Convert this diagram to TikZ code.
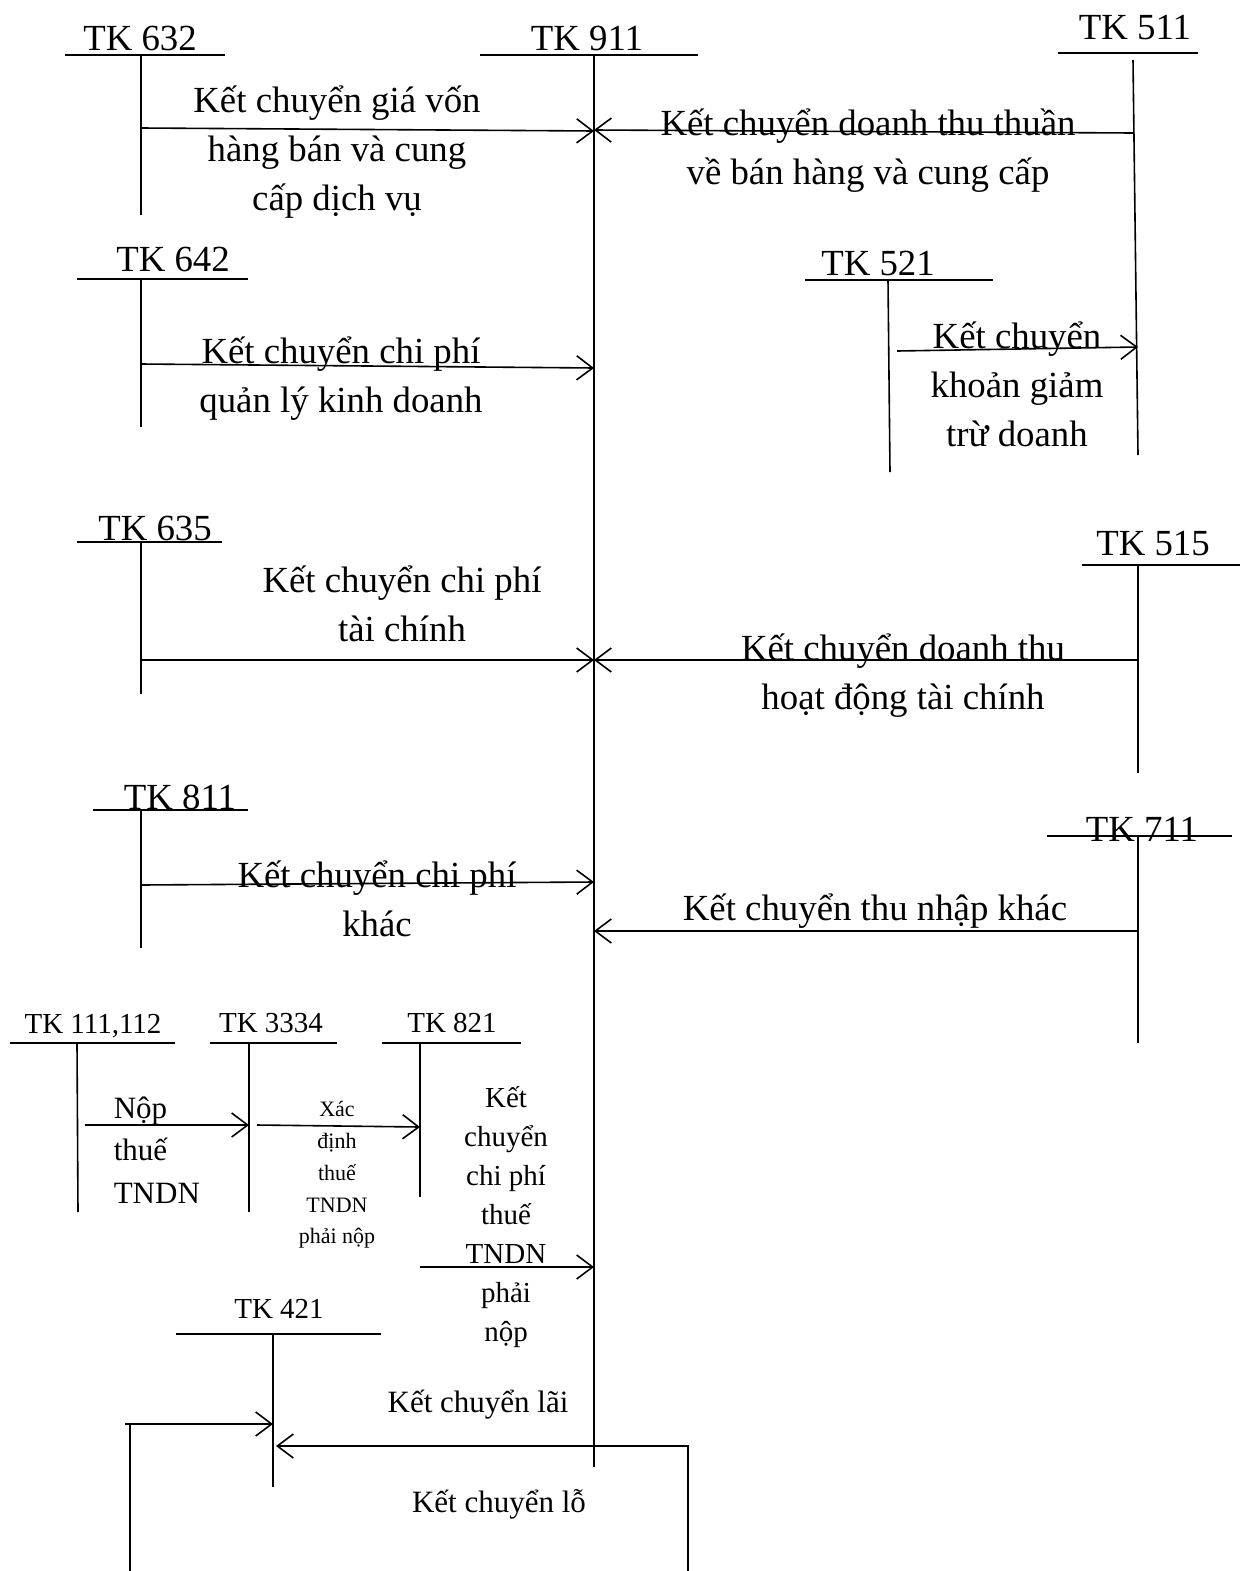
\documentclass[tikz,border=0pt]{standalone}
\usepackage{fontspec}
\setmainfont{Liberation Serif}
\usetikzlibrary{arrows.meta}
\begin{document}
\begin{tikzpicture}[x=1pt,y=-1pt,line width=1.6pt,
  big/.style={font=\fontsize{36.8}{49}\selectfont,inner sep=0pt,align=center},
  mid/.style={font=\fontsize{29}{39}\selectfont,inner sep=0pt,align=center},
  lab/.style={font=\fontsize{31}{40}\selectfont,inner sep=0pt,align=center},
  nop/.style={font=\fontsize{31}{42.5}\selectfont,inner sep=0pt,align=left},
  small/.style={font=\fontsize{22}{31.7}\selectfont,inner sep=0pt,align=center},
  flow/.style={-{Straight Barb[length=16pt,width=24pt,line width=1.6pt]}}]
\useasboundingbox (0,0) rectangle (1242,1571);

% ---------- TK 632 ----------
\node[big] (l632) at (140,38) {TK 632};
\coordinate (a632l) at (65,55); \coordinate (a632r) at (225,55);
\coordinate (a632t) at (141,55); \coordinate (a632b) at (141,215);
\draw (a632l) -- (a632r); \draw (a632t) -- (a632b);

% ---------- TK 911 ----------
\node[big] (l911) at (587,38) {TK 911};
\coordinate (a911l) at (480,55); \coordinate (a911r) at (698,55);
\coordinate (a911t) at (594,55); \coordinate (a911b) at (594,1467);
\draw (a911l) -- (a911r); \draw (a911t) -- (a911b);

% ---------- TK 511 ----------
\node[big] (l511) at (1135,28) {TK 511};
\coordinate (a511l) at (1058,53); \coordinate (a511r) at (1198,53);
\coordinate (a511t) at (1133,60); \coordinate (a511b) at (1138,455);
\draw (a511l) -- (a511r); \draw (a511t) -- (a511b);

% arrows row 1
\coordinate (s1) at (141,128); \coordinate (e1) at (594,131);
\draw[flow] (s1) -- (e1);
\node[big] (t1) at (337,152) {Kết chuyển giá vốn\\hàng bán và cung\\cấp dịch vụ};
\coordinate (s2) at (1133,133); \coordinate (e2) at (594,130);
\draw[flow] (s2) -- (e2);
\node[big] (t2) at (868,151) {Kết chuyển doanh thu thuần\\về bán hàng và cung cấp};

% ---------- TK 642 ----------
\node[big] (l642) at (173,259) {TK 642};
\coordinate (a642l) at (77,279); \coordinate (a642r) at (248,279);
\coordinate (a642t) at (141,279); \coordinate (a642b) at (141,427);
\draw (a642l) -- (a642r); \draw (a642t) -- (a642b);
\coordinate (s3) at (141,364); \coordinate (e3) at (594,368);
\draw[flow] (s3) -- (e3);
\node[big] (t3) at (341,379) {Kết chuyển chi phí\\quản lý kinh doanh};

% ---------- TK 521 ----------
\node[big] (l521) at (878,263) {TK 521};
\coordinate (a521l) at (805,280); \coordinate (a521r) at (993,280);
\coordinate (a521t) at (888,280); \coordinate (a521b) at (890,472);
\draw (a521l) -- (a521r); \draw (a521t) -- (a521b);
\coordinate (s4) at (897,351); \coordinate (e4) at (1138,347);
\draw[flow] (s4) -- (e4);
\node[big] (t4) at (1017,384) {Kết chuyển\\khoản giảm\\trừ doanh};

% ---------- TK 635 ----------
\node[big] (l635) at (155,528) {TK 635};
\coordinate (a635l) at (77,542); \coordinate (a635r) at (222,542);
\coordinate (a635t) at (141,542); \coordinate (a635b) at (141,694);
\draw (a635l) -- (a635r); \draw (a635t) -- (a635b);
\coordinate (s5) at (141,660); \coordinate (e5) at (594,660);
\draw[flow] (s5) -- (e5);
\node[big] (t5) at (402,604) {Kết chuyển chi phí\\tài chính};

% ---------- TK 515 ----------
\node[big] (l515) at (1153,544) {TK 515};
\coordinate (a515l) at (1082,565); \coordinate (a515r) at (1240,565);
\coordinate (a515t) at (1138,565); \coordinate (a515b) at (1138,773);
\draw (a515l) -- (a515r); \draw (a515t) -- (a515b);
\coordinate (s6) at (1138,660); \coordinate (e6) at (594,660);
\draw[flow] (s6) -- (e6);
\node[big] (t6) at (903,676) {Kết chuyển doanh thu\\hoạt động tài chính};

% ---------- TK 811 ----------
\node[big] (l811) at (180,797) {TK 811};
\coordinate (a811l) at (93,810); \coordinate (a811r) at (248,810);
\coordinate (a811t) at (141,810); \coordinate (a811b) at (141,948);
\draw (a811l) -- (a811r); \draw (a811t) -- (a811b);
\coordinate (s7) at (141,885); \coordinate (e7) at (594,882);
\draw[flow] (s7) -- (e7);
\node[big] (t7) at (377,899) {Kết chuyển chi phí\\khác};

% ---------- TK 711 ----------
\node[big] (l711) at (1142,829) {TK 711};
\coordinate (a711l) at (1047,836); \coordinate (a711r) at (1232,836);
\coordinate (a711t) at (1138,836); \coordinate (a711b) at (1138,1043);
\draw (a711l) -- (a711r); \draw (a711t) -- (a711b);
\coordinate (s8) at (1138,931); \coordinate (e8) at (594,931);
\draw[flow] (s8) -- (e8);
\node[big] (t8) at (875,911) {Kết chuyển thu nhập khác};

% ---------- TK 111,112 ----------
\node[mid] (l111) at (93,1026) {TK 111,112};
\coordinate (a111l) at (10,1043); \coordinate (a111r) at (175,1043);
\coordinate (a111t) at (77,1043); \coordinate (a111b) at (78,1212);
\draw (a111l) -- (a111r); \draw (a111t) -- (a111b);

% ---------- TK 3334 ----------
\node[mid] (l3334) at (271,1023) {TK 3334};
\coordinate (a3334l) at (210,1043); \coordinate (a3334r) at (337,1043);
\coordinate (a3334t) at (249,1043); \coordinate (a3334b) at (249,1212);
\draw (a3334l) -- (a3334r); \draw (a3334t) -- (a3334b);

% ---------- TK 821 ----------
\node[mid] (l821) at (452,1023) {TK 821};
\coordinate (a821l) at (382,1043); \coordinate (a821r) at (521,1043);
\coordinate (a821t) at (420,1043); \coordinate (a821b) at (420,1197);
\draw (a821l) -- (a821r); \draw (a821t) -- (a821b);

\coordinate (s9) at (85,1125); \coordinate (e9) at (249,1125);
\draw[flow] (s9) -- (e9);
\node[nop,anchor=west] (t9) at (113,1150) {Nộp\\thuế\\TNDN};
\coordinate (s10) at (257,1125); \coordinate (e10) at (420,1127);
\draw[flow] (s10) -- (e10);
\node[small] (t10) at (337,1175) {Xác\\định\\thuế\\TNDN\\phải nộp};
\node[mid] (t11) at (506,1217) {Kết\\chuyển\\chi phí\\thuế\\TNDN\\phải\\nộp};
\coordinate (s11) at (420,1267); \coordinate (e11) at (594,1267);
\draw[flow] (s11) -- (e11);

% ---------- TK 421 ----------
\node[mid] (l421) at (279,1309) {TK 421};
\coordinate (a421l) at (176,1334); \coordinate (a421r) at (381,1334);
\coordinate (a421t) at (273,1334); \coordinate (a421b) at (273,1487);
\draw (a421l) -- (a421r); \draw (a421t) -- (a421b);

\node[lab] (t12) at (478,1405) {Kết chuyển lãi};
\node[lab] (t13) at (499,1504) {Kết chuyển lỗ};

\coordinate (p1) at (688,1571); \coordinate (p2) at (688,1446); \coordinate (p3) at (276,1446);
\draw[flow] (p1) -- (p2) -- (p3);
\coordinate (q1) at (130,1571); \coordinate (q2) at (130,1424);
\coordinate (q0) at (125,1424); \coordinate (q3) at (273,1424);
\draw (q1) -- (q2);
\draw[flow] (q0) -- (q3);
\end{tikzpicture}
\end{document}
